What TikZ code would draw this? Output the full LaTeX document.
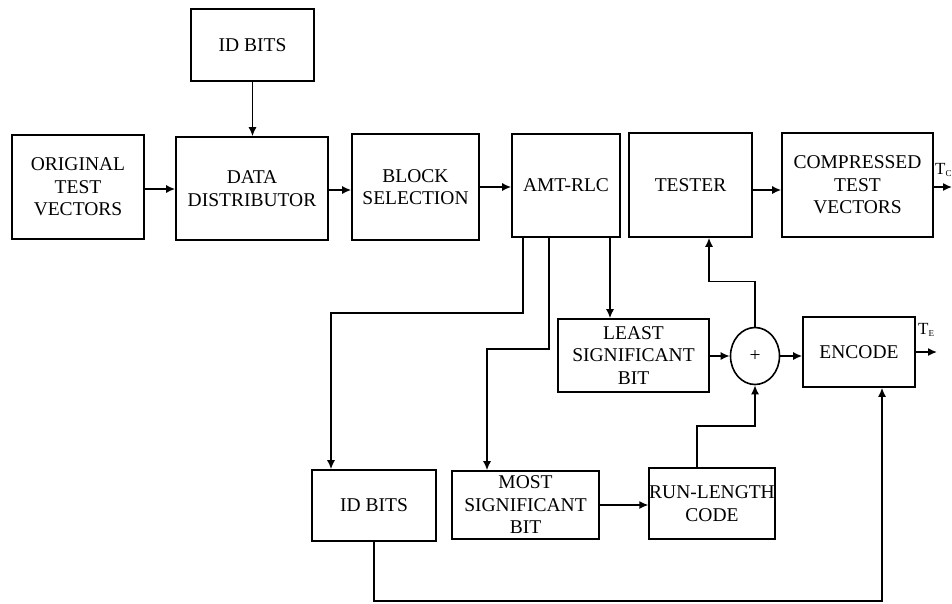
\documentclass[tikz,border=0pt]{standalone}
\usepackage{fontspec}
\setmainfont{Liberation Serif}
\usetikzlibrary{arrows.meta,shapes.geometric}
\begin{document}
\begin{tikzpicture}[x=1pt,y=-1pt,
  blk/.style={draw,line width=1.6pt,rectangle,inner sep=0pt,align=center,
    font=\fontsize{19.5}{22.5}\selectfont},
  arr/.style={line width=1.5pt,-{Latex[length=9pt,width=8pt]}},
  ln/.style={line width=1.5pt}]
\useasboundingbox (0,0) rectangle (952,603);
\node[blk,minimum width=132,minimum height=104] (orig) at (78,187) {ORIGINAL\\TEST\\VECTORS};
\node[blk,minimum width=123,minimum height=72] (idtop) at (252.5,45) {ID BITS};
\node[blk,minimum width=152,minimum height=103] (dd) at (252,188.5) {DATA\\DISTRIBUTOR};
\node[blk,minimum width=127,minimum height=106] (bs) at (415.5,187) {BLOCK\\SELECTION};
\node[blk,minimum width=108,minimum height=103] (amt) at (566,185.5) {AMT-RLC};
\node[blk,minimum width=123,minimum height=104] (tester) at (690.5,185) {TESTER};
\node[blk,minimum width=151,minimum height=104] (comp) at (857.5,185) {COMPRESSED\\TEST\\VECTORS};
\node[blk,minimum width=151,minimum height=73] (lsb) at (633.5,355.5) {LEAST\\SIGNIFICANT\\BIT};
\node[blk,ellipse,minimum width=49,minimum height=57] (sum) at (755,356) {+};
\node[blk,minimum width=112,minimum height=70] (enc) at (859,352) {ENCODE};
\node[blk,minimum width=124,minimum height=71] (idbot) at (374,505.5) {ID BITS};
\node[blk,minimum width=147,minimum height=68] (msb) at (525.5,505) {MOST\\SIGNIFICANT\\BIT};
\node[blk,minimum width=124,minimum height=71] (rlc) at (712,503.5) {RUN-LENGTH\\CODE};
\coordinate (tc) at (952,187);
\coordinate (te) at (937,352);
\node[anchor=west,inner sep=0pt,font=\fontsize{17}{20}\selectfont] (tcl) at (935,170) {T\raisebox{-0.35ex}{\fontsize{9}{10}\selectfont C}};
\node[anchor=west,inner sep=0pt,font=\fontsize{17}{20}\selectfont] (tel) at (918,330) {T\raisebox{-0.35ex}{\fontsize{9}{10}\selectfont E}};
% top row
\draw[arr] (orig.east |- 0,189) -- (dd.west |- 0,189);
\draw[arr] (idtop.south) -- (idtop.south |- dd.north);
\draw[arr] (dd.east |- 0,190) -- (bs.west |- 0,190);
\draw[arr] (bs.east |- 0,187) -- (amt.west |- 0,187);
\draw[arr] (tester.east |- 0,190) -- (comp.west |- 0,190);
\draw[arr] (comp.east |- 0,187) -- (tc);
% from AMT-RLC
\draw[arr] ([xshift=44pt]amt.south) -- ([xshift=44pt]amt.south |- lsb.north);
\draw[arr] ([xshift=-43pt]amt.south) -- ++(0,75) -| ([xshift=-43pt]idbot.north);
\draw[arr] ([xshift=-17pt]amt.south) -- ++(0,111) -| ([xshift=-38.5pt]msb.north);
% summing node
\draw[arr] (lsb.east |- sum.west) -- (sum.west);
\draw[arr] (sum.east) -- (sum.east -| enc.west);
\draw[arr] (sum.north) -- ++(0,-45) -| ([xshift=18.5pt]tester.south);
\draw[arr] ([xshift=-15pt]rlc.north) -- ++(0,-41) -| (sum.south);
\draw[arr] (msb.east) -- (msb.east -| rlc.west);
\draw[arr] (idbot.south) -- ++(0,59) -| ([xshift=23pt]enc.south);
\draw[arr] (enc.east) -- (te);
\end{tikzpicture}
\end{document}
